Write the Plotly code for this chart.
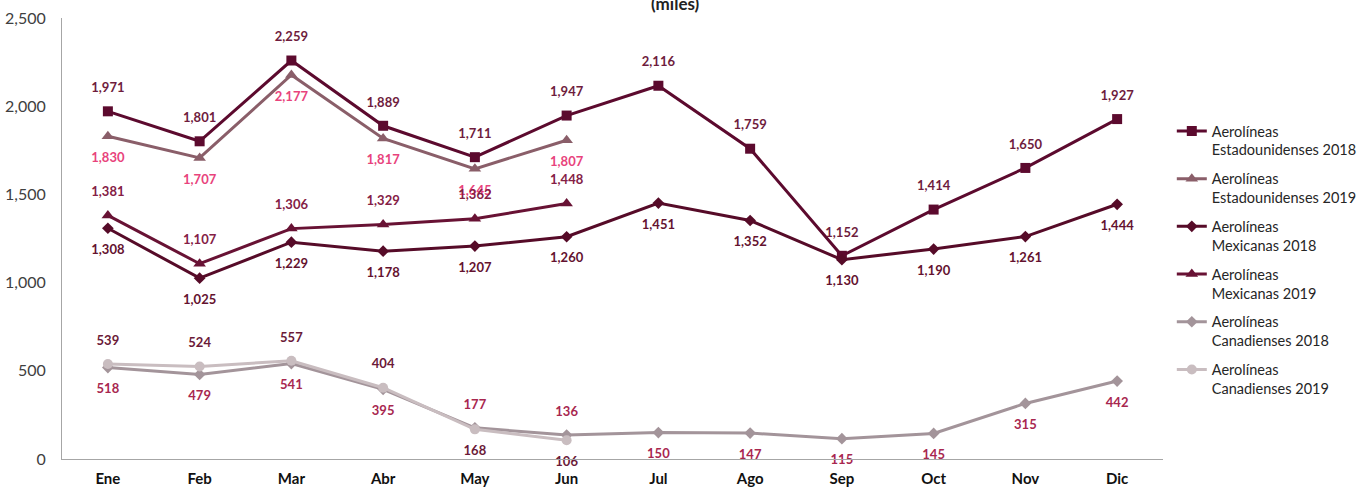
import plotly.graph_objects as go

months = ["Ene", "Feb", "Mar", "Abr", "May", "Jun", "Jul", "Ago", "Sep", "Oct", "Nov", "Dic"]

us_2018 = [1971, 1801, 2259, 1889, 1711, 1947, 2116, 1759, 1152, 1414, 1650, 1927]
us_2019 = [1830, 1707, 2177, 1817, 1645, 1807]
mex_2018 = [1308, 1025, 1229, 1178, 1207, 1260, 1451, 1352, 1130, 1190, 1261, 1444]
mex_2019 = [1381, 1107, 1306, 1329, 1362, 1448]
can_2018 = [518, 479, 541, 395, 177, 136, 150, 147, 115, 145, 315, 442]
can_2019 = [539, 524, 557, 404, 168, 106]

names = [
    "Aerolíneas<br>Estadounidenses 2018",
    "Aerolíneas<br>Estadounidenses 2019",
    "Aerolíneas<br>Mexicanas 2018",
    "Aerolíneas<br>Mexicanas 2019",
    "Aerolíneas<br>Canadienses 2018",
    "Aerolíneas<br>Canadienses 2019",
]

FONT = "Lato, 'Open Sans', sans-serif"

series = [
    (us_2018, names[0], "#5C0A2E", "square", 10, "#6E1C3D", ["top center"] * 12),
    (us_2019, names[1], "#8A5E69", "triangle-up", 11, "#E8437C", ["bottom center"] * 6),
    (mex_2018, names[2], "#560B28", "diamond", 9, "#64122F", ["bottom center"] * 12),
    (mex_2019, names[3], "#681234", "triangle-up", 11, "#842045", ["top center"] * 6),
    (can_2018, names[4], "#A3949A", "diamond", 9, "#A8274F",
     ["bottom center"] * 4 + ["top center"] * 2 + ["bottom center"] * 6),
    (can_2019, names[5], "#C9BDC0", "circle", 10, "#6B1A38",
     ["top center"] * 4 + ["bottom center"] * 2),
]

fig = go.Figure()
for i, (vals, name, color, sym, size, lblcol, pos) in enumerate(series):
    x = months[:len(vals)]
    fig.add_trace(go.Scatter(
        x=x, y=vals, name=name, legendgroup=f"g{i}",
        mode="lines+markers",
        line=dict(color=color, width=3),
        marker=dict(symbol=sym, size=size, color=color),
    ))
for i, (vals, name, color, sym, size, lblcol, pos) in enumerate(series):
    x = months[:len(vals)]
    # label layer: transparent, larger markers give the labels Excel-like offset
    fig.add_trace(go.Scatter(
        x=x, y=vals, name=name, legendgroup=f"g{i}", showlegend=False,
        mode="markers+text", hoverinfo="skip",
        marker=dict(size=24, color="rgba(0,0,0,0)"),
        text=[f"<b>{v:,}</b>" for v in vals],
        textposition=pos,
        textfont=dict(family=FONT, size=13, color=lblcol),
        cliponaxis=False,
    ))

fig.add_annotation(
    text="<b>(miles)</b>", xref="paper", yref="paper", x=0.557, y=1.034,
    xanchor="center", yanchor="middle", showarrow=False,
    font=dict(family=FONT, size=17, color="#222222"),
)

fig.update_layout(
    width=1360, height=489,
    margin=dict(l=62, r=197, t=18, b=30, autoexpand=False),
    paper_bgcolor="white", plot_bgcolor="white",
    font=dict(family=FONT, size=14, color="#404040"),
    showlegend=True,
    legend=dict(x=1.008, y=0.78, xanchor="left", yanchor="top",
                font=dict(family=FONT, size=14.5, color="#262626"),
                itemwidth=30, tracegroupgap=7, valign="top"),
)
fig.update_xaxes(
    type="category", showgrid=False, showline=True, linecolor="#A6A6A6", linewidth=1,
    ticks="", tickfont=dict(family=FONT, size=15, color="#111111", weight="bold"),
    ticklabelstandoff=6,
    range=[-0.5, 11.5],
)
fig.update_yaxes(
    range=[0, 2500], tickvals=[0, 500, 1000, 1500, 2000, 2500],
    ticktext=["0", "500", "1,000", "1,500", "2,000", "2,500"],
    showgrid=False, zeroline=False, showline=True, linecolor="#A6A6A6", linewidth=1,
    ticks="", tickfont=dict(family=FONT, size=16, color="#404040"),
    ticklabelstandoff=12,
)

fig.write_html(
    "out.html",
    config={"displayModeBar": False},
    post_script="document.body.style.margin='0';document.body.style.overflow='hidden';",
)
